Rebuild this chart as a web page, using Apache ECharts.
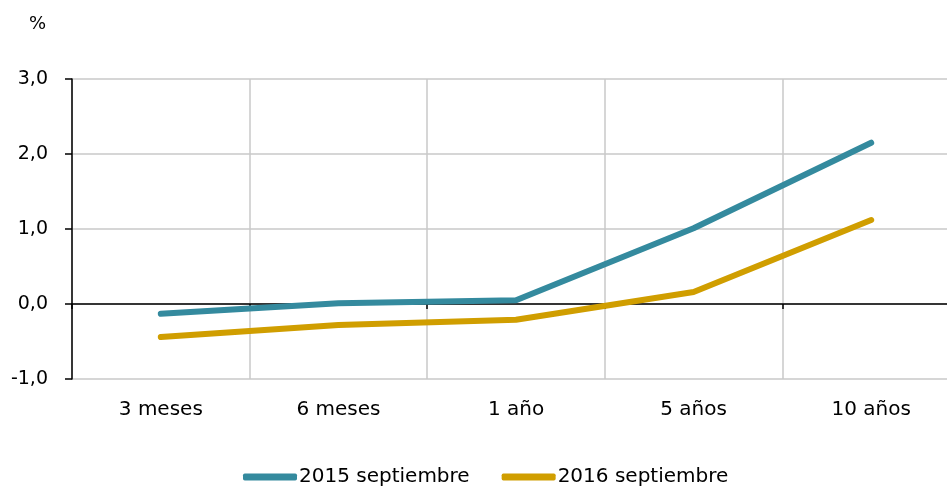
<!DOCTYPE html>
<html lang="es">
<head>
    <meta charset="UTF-8">
    <title>curva</title>
    <script type="text/javascript" src="https://cdn.jsdelivr.net/npm/echarts@6/dist/echarts.min.js"></script>
    <style>html,body{margin:0;padding:0;background:#fff;}</style>
</head>
<body>
<div id="chart" style="width: 947px;height: 490px;"></div>
<script type="text/javascript">
    var plazos = ['3 meses', '6 meses', '1 año', '5 años', '10 años'];
    var sep2015 = [-0.13, 0.01, 0.05, 1.01, 2.15];
    var sep2016 = [-0.44, -0.28, -0.21, 0.16, 1.12];
    var nombres = ['2015 septiembre', '2016 septiembre'];

    var fuente = 'DejaVu Sans';
    var myChart = echarts.init(document.getElementById('chart'));
    var option = {
        backgroundColor: '#fff',
        animation: false,
        title: {
            text: '%',
            left: 24,
            top: 10,
            textStyle: {fontFamily: fuente, fontSize: 18, fontWeight: 'normal', color: '#000'}
        },
        grid: {left: 72, width: 888, top: 79, bottom: 111, outerBoundsMode: 'none'},
        legend: {
            left: 238,
            bottom: -2,
            itemWidth: 54,
            itemHeight: 7,
            itemGap: 32,
            icon: 'roundRect',
            textStyle: {fontFamily: fuente, fontSize: 20, color: '#000', padding: [0, 0, 0, -3]},
            data: nombres
        },
        xAxis: [{
            type: 'category',
            data: plazos,
            position: 'bottom',
            axisLine: {show: false, onZero: false},
            axisTick: {show: false},
            axisLabel: {fontFamily: fuente, fontSize: 20, color: '#000', margin: 21},
            splitLine: {show: true, interval: 0, lineStyle: {color: '#c8c8c8', width: 1.5}}
        }, {
            type: 'category',
            data: plazos,
            position: 'bottom',
            axisLine: {show: true, onZero: true, lineStyle: {color: '#000', width: 1.5}},
            axisTick: {show: true, interval: 0, length: 5, lineStyle: {color: '#000', width: 1.5}},
            axisLabel: {show: false},
            splitLine: {show: false}
        }],
        yAxis: {
            type: 'value',
            min: -1,
            max: 3,
            interval: 1,
            axisLine: {show: true, lineStyle: {color: '#000', width: 1.5}},
            axisTick: {show: true, length: 7, lineStyle: {color: '#000', width: 1.5}},
            axisLabel: {
                fontFamily: fuente, fontSize: 19, color: '#000', margin: 24,
                formatter: function (v) { return v.toFixed(1).replace('.', ','); }
            },
            splitLine: {show: true, lineStyle: {color: '#c8c8c8', width: 1.5}}
        },
        series: [{
            name: nombres[0],
            type: 'line',
            data: sep2015,
            symbol: 'none',
            itemStyle: {color: '#348a9e'},
            lineStyle: {color: '#348a9e', width: 6, cap: 'round'}
        }, {
            name: nombres[1],
            type: 'line',
            data: sep2016,
            symbol: 'none',
            itemStyle: {color: '#d09e00'},
            lineStyle: {color: '#d09e00', width: 6, cap: 'round'}
        }]
    };
    myChart.setOption(option);
</script>
</body>
</html>
